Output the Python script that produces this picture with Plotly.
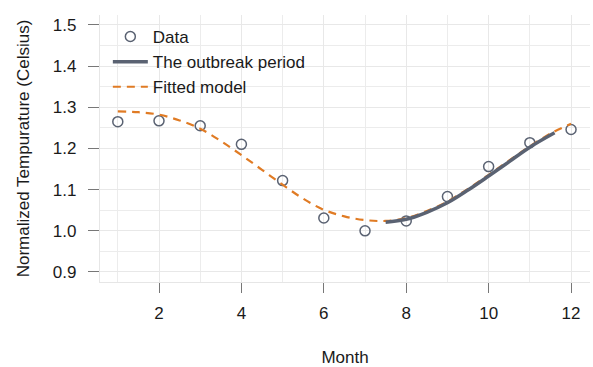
import plotly.graph_objects as go

# Observed data
months = [1, 2, 3, 4, 5, 6, 7, 8, 9, 10, 11, 12]
temps = [1.265, 1.267, 1.255, 1.210, 1.122, 1.031, 1.000, 1.024, 1.083, 1.156, 1.214, 1.246]

# Fitted model curve
fit_x = [1, 1.5, 2, 2.5, 3, 3.5, 4, 4.5, 5, 5.5, 6, 6.5, 7, 7.5, 8, 8.5, 9, 9.5, 10, 10.5, 11, 11.5, 12]
fit_y = [1.290, 1.288, 1.282, 1.268, 1.248, 1.218, 1.184, 1.148, 1.112, 1.078, 1.051, 1.035,
         1.026, 1.024, 1.031, 1.048, 1.071, 1.102, 1.136, 1.171, 1.205, 1.236, 1.260]

# Outbreak period curve
out_x = [7.5, 8, 8.5, 9, 9.5, 10, 10.5, 11, 11.6]
out_y = [1.021, 1.028, 1.045, 1.068, 1.099, 1.133, 1.168, 1.203, 1.238]

x_ticks = [2, 4, 6, 8, 10, 12]
y_ticks = [0.9, 1.0, 1.1, 1.2, 1.3, 1.4, 1.5]

SLATE = "#5a6272"
ORANGE = "#e07b24"
FONT = "Liberation Sans, Arial, sans-serif"

fig = go.Figure()
fig.add_trace(go.Scatter(
    x=months, y=temps, mode="markers", name="Data", legendrank=1,
    marker=dict(symbol="circle-open", size=10, color=SLATE, line=dict(width=1.5, color=SLATE)),
))
fig.add_trace(go.Scatter(
    x=fit_x, y=fit_y, mode="lines", name="Fitted model", legendrank=3,
    line=dict(color=ORANGE, width=2.2, dash="8px,6px", shape="spline", smoothing=1.0),
))
fig.add_trace(go.Scatter(
    x=out_x, y=out_y, mode="lines", name="The outbreak period", legendrank=2,
    line=dict(color=SLATE, width=3.5, shape="spline", smoothing=1.0),
))

fig.update_layout(
    width=593, height=367,
    margin=dict(l=100, r=3, t=15, b=85),
    paper_bgcolor="white", plot_bgcolor="white",
    font=dict(family=FONT, size=17, color="#1a1a1a"),
    showlegend=True,
    legend=dict(x=0.016, y=0.985, xanchor="left", yanchor="top",
                bgcolor="rgba(0,0,0,0)", traceorder="normal",
                font=dict(size=17), itemwidth=35, tracegroupgap=0),
)

fig.update_xaxes(
    range=[0.568, 12.46], tickvals=x_ticks, ticktext=[str(v) for v in x_ticks],
    showgrid=True, gridcolor="#e8e8e8", gridwidth=1.3,
    minor=dict(dtick=1, tick0=0, showgrid=True, gridcolor="#ececec", gridwidth=1.1, ticks=""),
    showline=True, linecolor="#e6e6e6", linewidth=1.3,
    ticks="outside", ticklen=10, tickcolor="#777777", tickwidth=1.2,
    ticklabelstandoff=5,
    title=dict(text="Month", standoff=30, font=dict(size=17)),
    zeroline=False,
)
fig.update_yaxes(
    range=[0.8757, 1.524], tickvals=y_ticks, ticktext=[f"{v:.1f}" for v in y_ticks],
    showgrid=True, gridcolor="#e8e8e8", gridwidth=1.3,
    minor=dict(dtick=0.05, tick0=0.9, showgrid=True, gridcolor="#ececec", gridwidth=1.1, ticks=""),
    showline=True, linecolor="#e6e6e6", linewidth=1.3,
    ticks="outside", ticklen=11, tickcolor="#777777", tickwidth=1.2,
    ticklabelstandoff=8,
    title=dict(text="Normalized Tempurature (Celsius)", standoff=18, font=dict(size=17)),
    zeroline=False,
)

fig.write_html("out.html")
